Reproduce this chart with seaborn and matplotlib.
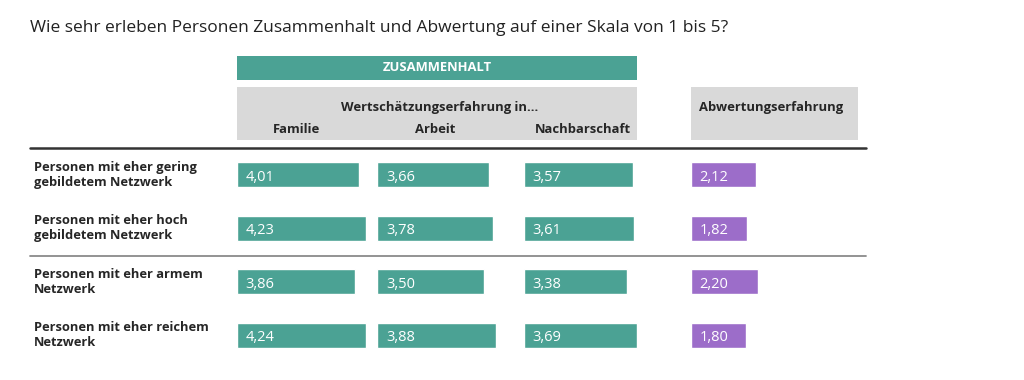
import matplotlib
matplotlib.use('Agg')
import matplotlib.pyplot as plt
import matplotlib.transforms as mtransforms
from matplotlib.patches import Rectangle
from matplotlib.lines import Line2D
import seaborn as sns
import pandas as pd

gruppen = ['Personen mit eher gering\ngebildetem Netzwerk',
           'Personen mit eher hoch\ngebildetem Netzwerk',
           'Personen mit eher armem\nNetzwerk',
           'Personen mit eher reichem\nNetzwerk']
familie = [4.01, 4.23, 3.86, 4.24]
arbeit = [3.66, 3.78, 3.50, 3.88]
nachbarschaft = [3.57, 3.61, 3.38, 3.69]
abwertung = [2.12, 1.82, 2.20, 1.80]
spalten = ['Familie', 'Arbeit', 'Nachbarschaft']

TEAL = '#4ba294'
LILA = '#9c6dc9'
GRAU = '#d9d9d9'

sns.set_style('white')
plt.rcParams['font.family'] = ['Open Sans', 'DejaVu Sans']

W, H = 1024, 380
fig = plt.figure(figsize=(W / 100, H / 100), dpi=100)

def fx(px):
    return px / W

def fy(py):
    return 1 - py / H

PX_PER_UNIT = 30.6
top, bottom = 148, 362

def spalte(left, width, werte, farbe):
    ax = fig.add_axes([fx(left), fy(bottom), width / W, (bottom - top) / H])
    df = pd.DataFrame({'gruppe': gruppen, 'wert': werte})
    sns.barplot(data=df, x='wert', y='gruppe', orient='h', color=farbe,
                saturation=1, width=0.47, ax=ax)
    ax.set_xlim(0, width / PX_PER_UNIT)
    ax.axis('off')
    trans = mtransforms.offset_copy(ax.transData, fig=fig, x=6.3, y=-4.2, units='points')
    for i, v in enumerate(werte):
        ax.text(0, i, f'{v:.2f}'.replace('.', ','), color='white', fontsize=10.5,
                ha='left', va='baseline', transform=trans)
    return ax

ax0 = spalte(236.7, 140, familie, TEAL)
spalte(377.3, 140, arbeit, TEAL)
spalte(524, 140, nachbarschaft, TEAL)
spalte(691, 100, abwertung, LILA)

# Zeilenbeschriftungen
lab_trans = mtransforms.blended_transform_factory(fig.transFigure, ax0.transData)
for i, g in enumerate(gruppen):
    ax0.text(fx(34), i, g, transform=lab_trans, ha='left', va='center',
             fontsize=9.3, fontweight='bold', linespacing=1.22, clip_on=False)

# Titel
fig.text(fx(30), fy(28), 'Wie sehr erleben Personen Zusammenhalt und Abwertung auf einer Skala von 1 bis 5?',
         fontsize=12.5, ha='left', va='center', color='#222222')

# Kopfzeilen
fig.add_artist(Rectangle((fx(237), fy(79.5)), fx(637) - fx(237), fy(55.5) - fy(79.5),
                         transform=fig.transFigure, color=TEAL, lw=0))
fig.text(fx(437), fy(67.5), 'ZUSAMMENHALT', color='white', fontsize=9.4,
         fontweight='bold', ha='center', va='center')
fig.add_artist(Rectangle((fx(237), fy(140)), fx(637) - fx(237), fy(87.5) - fy(140),
                         transform=fig.transFigure, color=GRAU, lw=0))
fig.text(fx(440), fy(107), 'Wertschätzungserfahrung in...', fontsize=9.4,
         fontweight='bold', ha='center', va='center')
for x, s in zip([296, 435.5, 582.5], spalten):
    fig.text(fx(x), fy(129.5), s, fontsize=9.4, fontweight='bold', ha='center', va='center')
fig.add_artist(Rectangle((fx(691), fy(140)), fx(858) - fx(691), fy(87.5) - fy(140),
                         transform=fig.transFigure, color=GRAU, lw=0))
fig.text(fx(771), fy(107), 'Abwertungserfahrung', fontsize=9.4,
         fontweight='bold', ha='center', va='center')

# Trennlinien
fig.add_artist(Line2D([fx(30), fx(866)], [fy(148), fy(148)], transform=fig.transFigure,
                      color='#333333', lw=1.8))
fig.add_artist(Line2D([fx(30), fx(866)], [fy(256), fy(256)], transform=fig.transFigure,
                      color='#8a8a8a', lw=1.3))

fig.savefig('out.png', dpi=100, facecolor='white')
